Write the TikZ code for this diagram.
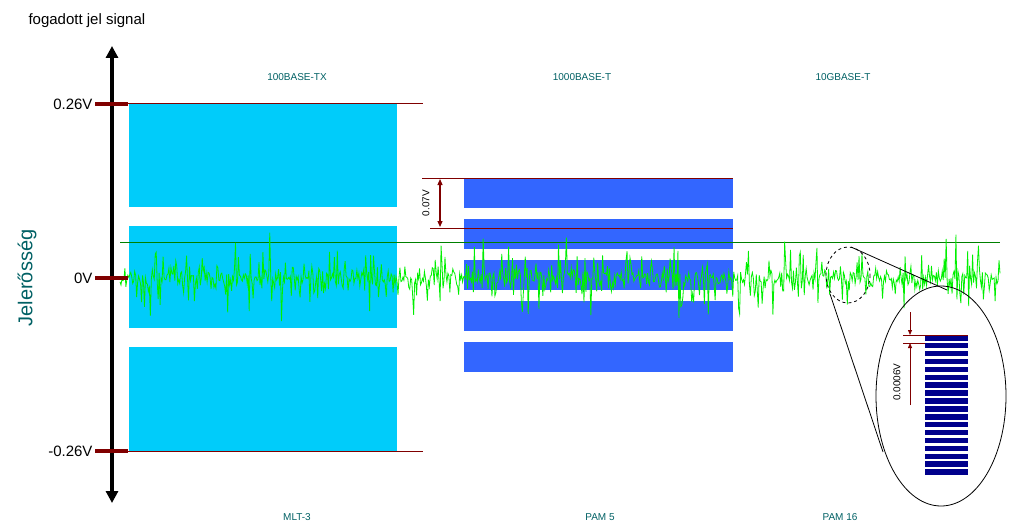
\documentclass[tikz,border=0pt]{standalone}
\usepackage{fontspec}
\setmainfont{Liberation Sans}
\usetikzlibrary{arrows.meta}
\definecolor{cy}{RGB}{0,204,250}
\definecolor{bl}{RGB}{51,102,255}
\definecolor{nv}{RGB}{0,0,140}
\definecolor{dr}{RGB}{128,0,0}
\definecolor{tl}{RGB}{0,96,100}
\definecolor{gn}{RGB}{0,240,0}
\tikzset{lab/.style={text=tl,font=\fontsize{10}{12}\selectfont},
 vlab/.style={font=\fontsize{15}{18}\selectfont,anchor=east},
 rl/.style={draw=dr,line width=1pt}}
\begin{document}
\begin{tikzpicture}[x=1pt,y=-1pt]
\useasboundingbox (0,0) rectangle (1024,527);
% boxes
\foreach \a/\b in {104/207,226/328,347/451} \fill[cy] (129,\a) rectangle (397,\b);
\foreach \a in {178,219,260,301,342} \fill[bl] (464,\a) rectangle (733,\a+30);
\draw[rl] (128,103) -- (423,103);
\draw[rl] (128,451) -- (423,451);
\draw[rl] (422,178) -- (733,178);
\draw[rl] (430,228) -- (733,228);
\coordinate (t1) at (440,179); \coordinate (t2) at (440,227);
\draw[dr,line width=1.2pt,{Triangle[width=5pt,length=6pt]}-{Triangle[width=5pt,length=6pt]}] (t1) -- (t2);
\node[rotate=90,font=\fontsize{10}{12}\selectfont] (v07) at (426,203) {0.07V};
\draw[green!50!black,line width=0.6pt] (120,242) -- (1000,242);
% noise
\pgfmathsetseed{7}
\draw[gn,line width=0.8pt] plot[samples=900,domain=120:1000] (\x,{278+(rand*rand*rand*60+rand*4)});
% axis
\coordinate (ab) at (112,503); \coordinate (at) at (112,46);
\draw[line width=4pt,-{Triangle[width=12pt,length=12pt]}] (112,270) -- (at);
\draw[line width=4pt,-{Triangle[width=12pt,length=12pt]}] (112,270) -- (ab);
\foreach \y/\t in {104/0.26V,278/0V,451/-0.26V}{
 \draw[dr,line width=4pt] (95,\y) -- (128,\y);
 \node[vlab] at (96,\y) {\t};}
\node[anchor=west,font=\fontsize{15}{18}\selectfont] (tt) at (25,21) {fogadott jel signal};
\node[rotate=90,text=tl,font=\fontsize{20}{24}\selectfont] (jel) at (27,278) {Jelerősség};
\foreach \x/\t in {297/100BASE-TX,582/1000BASE-T,843/10GBASE-T} \node[lab] at (\x,77) {\t};
\foreach \x/\t in {297/MLT-3,600/PAM 5,840/PAM 16} \node[lab] at (\x,517) {\t};
% zoom
\draw[dashed,line width=0.8pt] (848,275) ellipse [x radius=22,y radius=28];
\draw[line width=0.8pt] (941,396) ellipse [x radius=65,y radius=110];
\draw[line width=0.8pt] (851,247) -- (947,290);
\draw[line width=0.8pt] (830,294) -- (883,452);
\foreach \i in {0,...,17} \fill[nv] (925,335+\i*7.9) rectangle (968,340.5+\i*7.9);
\draw[dr,line width=0.8pt] (903,335) -- (968,335);
\draw[dr,line width=0.8pt] (903,343) -- (925,343);
\draw[dr,line width=0.8pt,-{Triangle[width=4pt,length=5pt]}] (910,312) -- (910,335);
\draw[dr,line width=0.8pt,-{Triangle[width=4pt,length=5pt]}] (910,405) -- (910,343);
\node[rotate=90,font=\fontsize{10}{12}\selectfont] (v6) at (897,382) {0.0006V};
\end{tikzpicture}
\end{document}
